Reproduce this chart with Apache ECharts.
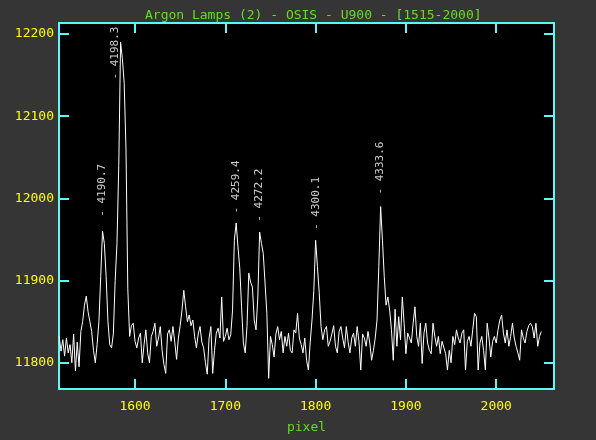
<!DOCTYPE html>
<html>
<head>
<meta charset="utf-8">
<script src="https://cdn.jsdelivr.net/npm/echarts@6/dist/echarts.min.js"></script>
<style>
html,body{margin:0;padding:0;background:#353535;}
#c{width:596px;height:440px;}
</style>
</head>
<body>
<div id="c"></div>
<script>
// ---- data ----
const titleText = 'Argon Lamps (2) - OSIS - U900 - [1515-2000]';
const xName = 'pixel';
const pixelStart = 1516;
const pixelStep = 2;
const counts = [
 11832,11814,11828,11808,11830,11812,11822,11800,11835,11790,
 11825,11795,11838,11850,11870,11881,11862,11850,11838,11815,
 11800,11822,11850,11905,11960,11945,11905,11850,11822,11818,
 11835,11900,11945,12040,12190,12170,12140,12060,11890,11832,
 11845,11848,11826,11818,11830,11836,11800,11822,11840,11812,
 11800,11832,11838,11848,11820,11830,11844,11815,11798,11787,
 11835,11840,11826,11844,11825,11804,11830,11845,11864,11888,
 11868,11850,11858,11845,11852,11832,11818,11835,11844,11825,
 11818,11800,11786,11830,11844,11787,11815,11836,11842,11830,
 11880,11826,11832,11842,11828,11834,11864,11949,11970,11941,
 11915,11868,11824,11812,11844,11909,11898,11892,11852,11840,
 11880,11959,11945,11933,11897,11860,11781,11832,11822,11807,
 11835,11844,11828,11838,11812,11832,11820,11836,11815,11812,
 11840,11836,11860,11830,11822,11812,11830,11803,11791,11825,
 11852,11888,11949,11917,11885,11844,11828,11840,11844,11820,
 11826,11835,11845,11820,11812,11838,11844,11830,11818,11844,
 11825,11812,11830,11836,11820,11844,11826,11791,11835,11830,
 11820,11838,11824,11803,11815,11830,11852,11917,11990,11949,
 11905,11870,11880,11864,11840,11803,11865,11820,11856,11828,
 11880,11848,11811,11836,11830,11824,11848,11868,11832,11820,
 11848,11799,11836,11848,11824,11815,11811,11848,11832,11820,
 11832,11811,11826,11828,11811,11791,11815,11800,11832,11822,
 11840,11830,11824,11836,11840,11791,11826,11832,11820,11840,
 11860,11856,11791,11824,11832,11815,11791,11848,11830,11807,
 11826,11832,11824,11840,11852,11858,11836,11824,11840,11820,
 11832,11848,11830,11820,11812,11803,11840,11830,11824,11838,
 11845,11848,11844,11830,11848,11820,11832,11838
];
const lineNames = ['4190.7','4198.3','4259.4','4272.2','4300.1','4333.6'];
const linePixels = [1564.5, 1579, 1712, 1738.5, 1800.6, 1871.5];
const lineLabelBase = [11977, 12144, 11981, 11971, 11961, 12004];
const xTicks = [1600, 1700, 1800, 1900, 2000];
const yTicks = [11800, 11900, 12000, 12100, 12200];
const xMin = 1515.8, xMax = 2064;
const yMin = 11768, yMax = 12213.4;

// ---- build ----
const lineData = counts.map((v, i) => [pixelStart + i * pixelStep, v]);
const labelData = lineNames.map((n, i) => ({ value: [linePixels[i], lineLabelBase[i]], name: n }));

const CYAN = '#5ef7f7';
const YEL = '#ffff00';
const GRN = '#66dd22';
const MONO = 'DejaVu Sans Mono';

function axisCommon(showLabel, ticks, isX) {
  return {
    axisLine: { show: false },
    splitLine: { show: false },
    axisTick: { show: true, inside: true, length: 10, customValues: ticks, lineStyle: { color: CYAN, width: 2 } },
    axisLabel: { show: showLabel, customValues: ticks, color: YEL, fontFamily: MONO, fontSize: 13,
      margin: isX ? 11 : 5, padding: isX ? 0 : [5, 0, 0, 0], formatter: v => String(Math.round(v)) }
  };
}

const chart = echarts.init(document.getElementById('c'), null, { renderer: 'canvas' });
chart.setOption({
  animation: false,
  backgroundColor: '#353535',
  title: {
    text: titleText, left: 140, top: 4,
    textStyle: { color: GRN, fontFamily: MONO, fontSize: 13, fontWeight: 'normal' }
  },
  grid: {
    left: 59, right: 42, top: 23, bottom: 51,
    show: true, backgroundColor: '#000000', borderColor: CYAN, borderWidth: 2
  },
  xAxis: [
    Object.assign({ type: 'value', min: xMin, max: xMax, position: 'bottom',
      name: xName, nameLocation: 'middle', nameGap: 32,
      nameTextStyle: { color: GRN, fontFamily: MONO, fontSize: 13 } }, axisCommon(true, xTicks, true)),
    Object.assign({ type: 'value', min: xMin, max: xMax, position: 'top' }, axisCommon(false, xTicks, true))
  ],
  yAxis: [
    Object.assign({ type: 'value', min: yMin, max: yMax, position: 'left' }, axisCommon(true, yTicks, false)),
    Object.assign({ type: 'value', min: yMin, max: yMax, position: 'right' }, axisCommon(false, yTicks, false))
  ],
  series: [
    {
      type: 'line', data: lineData, showSymbol: false, symbol: 'none',
      lineStyle: { color: '#ffffff', width: 1 }, xAxisIndex: 0, yAxisIndex: 0, z: 2
    },
    {
      type: 'scatter', data: labelData, symbolSize: 1,
      itemStyle: { color: 'rgba(0,0,0,0)' },
      xAxisIndex: 0, yAxisIndex: 0, z: 3,
      label: {
        show: true, position: [0, 0], rotate: 90, align: 'left', verticalAlign: 'middle',
        formatter: p => '- ' + p.name,
        color: '#ffffff', fontFamily: MONO, fontSize: 11
      }
    }
  ]
});
</script>
</body>
</html>
